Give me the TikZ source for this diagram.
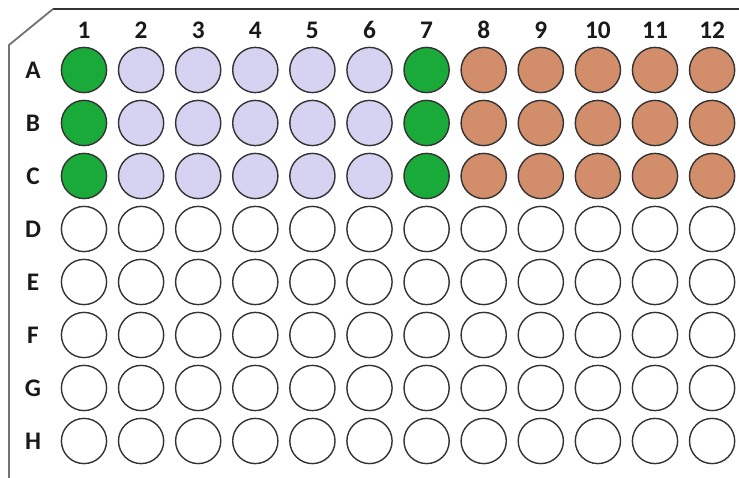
\documentclass[tikz,border=0pt]{standalone}
\usepackage{fontspec}
\setmainfont{Carlito}
\usetikzlibrary{positioning}

\definecolor{ctrlgreen}{RGB}{26,170,58}
\definecolor{samplelilac}{RGB}{214,210,242}
\definecolor{dyetan}{RGB}{210,142,106}

\begin{document}
\begin{tikzpicture}[
    x=0.025cm, y=-0.025cm,
    well/.style={
        circle,
        minimum size=1.13cm,
        inner sep=0pt,
        draw=black!80,
        line width=1pt
    },
    blankwell/.style={fill=white},
    ctrlwell/.style={fill=ctrlgreen},
    samplewell/.style={fill=samplelilac},
    dyewell/.style={fill=dyetan},
    lab/.style={font=\fontsize{18}{21}\selectfont\bfseries, text=black!90},
    plate/.style={line width=1.3pt, draw=black!55}
]
\useasboundingbox (0,0) rectangle (739,478);

% --- Rand der Platte ---
\coordinate (corner-top) at (53,9);
\coordinate (corner-left) at (9,45);
\draw[plate, draw=black!80] (739,9) -- (corner-top);
\draw[plate] (corner-top) -- (corner-left) -- (9,478);

% --- Spaltennummern ---
\foreach \c in {1,...,12}
    \node[lab] (col-\c) at (84+57.1*\c-57.1, 30) {\c};

% --- Zeilen mit Wells ---
\foreach \r [count=\i] in {A,...,H} {
    \node[lab] (row-\r) at (33, 17+53*\i) {\r};
    \foreach \c in {1,...,12} {
        \def\kind{blankwell}
        \ifnum\i<4
            \ifnum\c=1 \def\kind{ctrlwell}\else
            \ifnum\c=7 \def\kind{ctrlwell}\else
            \ifnum\c<7 \def\kind{samplewell}\else
            \def\kind{dyewell}\fi\fi\fi
        \fi
        \node[well, \kind] (w-\r\c) at (84+57.1*\c-57.1, 17+53*\i) {};
    }
}

\end{tikzpicture}
\end{document}
